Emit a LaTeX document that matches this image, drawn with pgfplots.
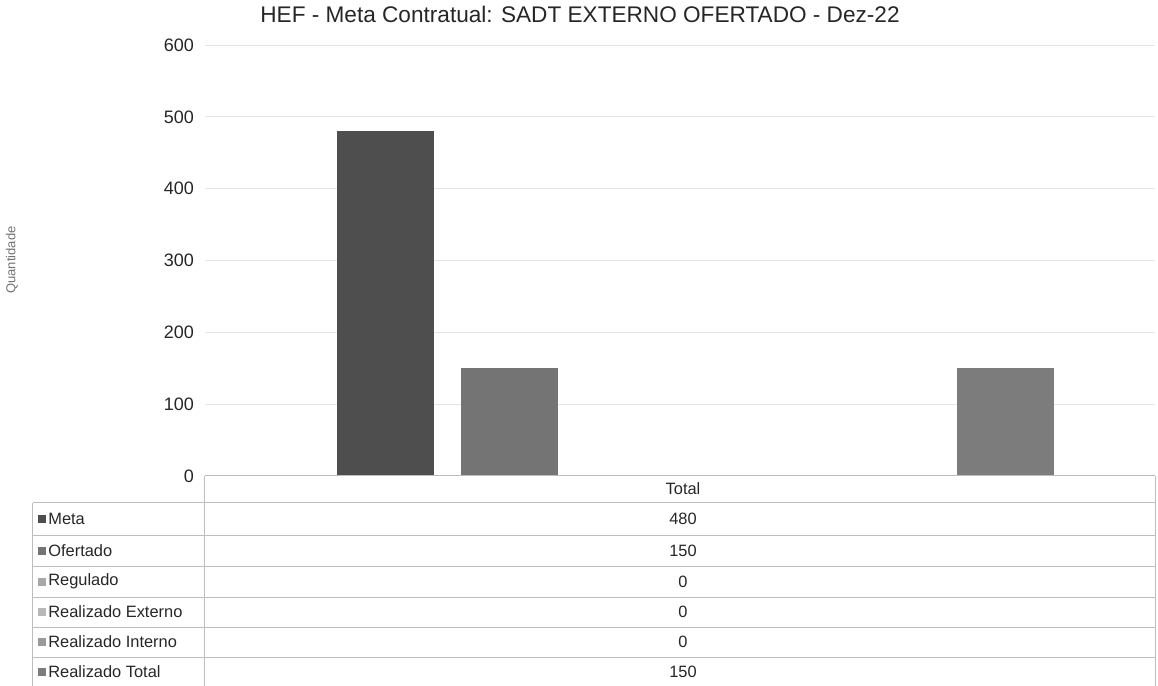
\documentclass[border=0pt]{standalone}
\usepackage{pgfplots}
\pgfplotsset{compat=1.18}
\usepackage{fontspec}
\setmainfont{Liberation Sans}
\definecolor{cMeta}{HTML}{4E4E4E}
\definecolor{cOfer}{HTML}{747474}
\definecolor{cRegu}{HTML}{A8A8A8}
\definecolor{cRext}{HTML}{B8B8B8}
\definecolor{cRint}{HTML}{9A9A9A}
\definecolor{cRtot}{HTML}{7C7C7C}
\definecolor{gridc}{HTML}{E4E4E4}
\definecolor{linec}{HTML}{BDBDBD}

\begin{document}
\begin{tikzpicture}
\path[use as bounding box] (-102.5pt,-105pt) rectangle (476.5pt,238pt);
\begin{axis}[
  at={(0,0)}, anchor=south west,
  scale only axis,
  width=475pt, height=215.5pt,
  xmin=-1.456, xmax=6.206,
  ymin=0, ymax=600,
  ytick={0,100,...,600},
  xtick=\empty,
  axis line style={draw=none},
  tick style={draw=none},
  ymajorgrids,
  grid style={gridc, line width=0.5pt},
  y tick label style={font=\fontsize{9}{10}\selectfont, text=black!85},
  /pgf/number format/assume math mode=true,
  yticklabel style={xshift=-2pt},
  clip=false,
]
\addplot[ybar, bar width=48.5pt, bar shift=0pt, fill=cMeta, draw=none] coordinates {(0,480)};
\addplot[ybar, bar width=48.5pt, bar shift=0pt, fill=cOfer, draw=none] coordinates {(1,150)};
\addplot[ybar, bar width=48.5pt, bar shift=0pt, fill=cRegu, draw=none] coordinates {(2,0)};
\addplot[ybar, bar width=48.5pt, bar shift=0pt, fill=cRext, draw=none] coordinates {(3,0)};
\addplot[ybar, bar width=48.5pt, bar shift=0pt, fill=cRint, draw=none] coordinates {(4,0)};
\addplot[ybar, bar width=48.5pt, bar shift=0pt, fill=cRtot, draw=none] coordinates {(5,150)};
\end{axis}
\node[font=\fontsize{11.3}{13}\selectfont, text=black!85] at (187.5pt,231pt) {HEF - Meta Contratual: SADT EXTERNO OFERTADO - Dez-22};
\node[rotate=90, font=\fontsize{6.5}{7}\selectfont, text=black!55] at (-96.5pt,108pt) {Quantidade};

% data table below the plot
\begin{scope}[line width=0.5pt]
  \draw[linec] (0,0) -- (475pt,0);
  \draw[linec] (-86pt,-13.5pt) -- (475pt,-13.5pt);
  \foreach \yy in {-29.5,-45,-60.5,-75.5,-90.5,-105}
    \draw[linec] (-86pt,\yy pt) -- (475pt,\yy pt);
  \draw[linec] (0,0) -- (0,-105pt);
  \draw[linec] (-86pt,-13.5pt) -- (-86pt,-105pt);
  \draw[linec] (475pt,0) -- (475pt,-105pt);
\end{scope}
\begin{scope}[every node/.style={font=\fontsize{8.2}{10}\selectfont, text=black!85, inner sep=0pt}]
  \node at (239pt,-6.5pt) {Total};
  \foreach \yy/\lab/\val/\col in {-21.5/Meta/480/cMeta, -37.25/Ofertado/150/cOfer, -52.75/Regulado/0/cRegu, -68/Realizado Externo/0/cRext, -83/Realizado Interno/0/cRint, -97.75/Realizado Total/150/cRtot}{
    \fill[\col] (-83.5pt,\yy pt-2pt) rectangle ++(4pt,4pt);
    \node[anchor=west] at (-78.5pt,\yy pt) {\lab};
    \node at (239pt,\yy pt) {\val};
  }
\end{scope}
\end{tikzpicture}
\end{document}
